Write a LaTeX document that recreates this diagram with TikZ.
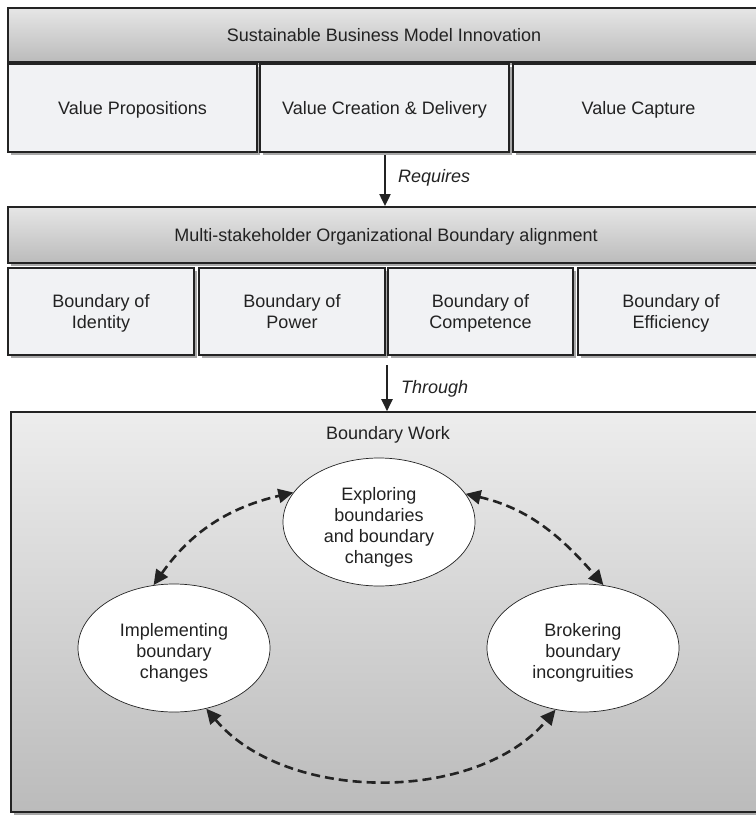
\documentclass[tikz,border=0pt]{standalone}
\usepackage{fontspec}
\setmainfont{Liberation Sans}
\usetikzlibrary{shapes.geometric,arrows.meta,shadows}
\definecolor{edgecol}{HTML}{232323}
\definecolor{txtcol}{HTML}{222222}
\definecolor{hdrtop}{HTML}{E6E6E6}
\definecolor{hdrbot}{HTML}{BBBBBB}
\definecolor{cellfill}{HTML}{F1F2F4}
\definecolor{shadowcol}{HTML}{A8A8A8}
\definecolor{worktop}{HTML}{EDEDED}
\definecolor{workbot}{HTML}{BBBBBB}
\newcommand\cst{\rule[-6.1pt]{0pt}{25.1pt}}
\newcommand\tst{\rule{0pt}{19pt}}
\newcommand\bst{\rule[-6.1pt]{0pt}{6.1pt}}
\newcommand\ost{\rule{0pt}{26pt}}
\begin{document}
\begin{tikzpicture}[x=1pt,y=1pt,
  every node/.style={font=\fontsize{18}{21}\selectfont, text=txtcol, inner sep=0pt},
  boxshadow/.style={general shadow={fill=shadowcol, shadow xshift=2.5pt, shadow yshift=-3pt}},
  hdrbox/.style={draw=edgecol, line width=1.8pt, top color=hdrtop, bottom color=hdrbot, boxshadow},
  cellbox/.style={draw=edgecol, line width=1.8pt, fill=cellfill, align=center, boxshadow},
  workbox/.style={draw=edgecol, line width=1.6pt, top color=worktop, bottom color=workbot, boxshadow},
  oval/.style={ellipse, draw=edgecol, line width=0.7pt, fill=white, minimum width=192pt, minimum height=128pt,
     align=center, inner xsep=0pt, inner ysep=-20pt},
  mainarrow/.style={draw=edgecol, line width=2pt, -{Triangle[length=12pt,width=11pt]}},
  cyclearrow/.style={draw=edgecol, line width=2.6pt, dash pattern=on 9pt off 5pt,
     {Triangle[length=15pt,width=14pt]}-{Triangle[length=15pt,width=14pt]}},
  arrowlabel/.style={font=\fontsize{18}{21}\selectfont\itshape, anchor=west}
]
\clip (0,0) rectangle (756,-815);
\fill[white] (0,0) rectangle (756,-815);

% first block
\node[hdrbox, minimum width=752pt, minimum height=54pt] (hdrA) at (384,-35) {\cst Sustainable Business Model Innovation};
\node[cellbox, minimum width=249pt, minimum height=88pt] (vp) at (132.5,-108) {\cst Value Propositions};
\node[cellbox, minimum width=249pt, minimum height=88pt] (vcd) at (384.5,-108) {\cst Value Creation \& Delivery};
\node[cellbox, minimum width=251pt, minimum height=88pt] (vc) at (638.5,-108) {\cst Value Capture};

% second block
\node[hdrbox, minimum width=756pt, minimum height=56pt] (hdrB) at (386,-235) {\cst Multi-stakeholder Organizational Boundary alignment};
\node[cellbox, minimum width=186pt, minimum height=87pt] (bi) at (101,-311.5) {\tst Boundary of\\Identity\bst};
\node[cellbox, minimum width=186pt, minimum height=87pt] (bp) at (292,-311.5) {\tst Boundary of\\Power\bst};
\node[cellbox, minimum width=185pt, minimum height=87pt] (bc) at (480.5,-311.5) {\tst Boundary of\\Competence\bst};
\node[cellbox, minimum width=186pt, minimum height=87pt] (be) at (671,-311.5) {\tst Boundary of\\Efficiency\bst};

% boundary work
\node[workbox, minimum width=753pt, minimum height=400pt] (work) at (387.5,-612) {};
\node (worktitle) at (388,-435) {Boundary Work};
\node[oval] (expl) at (379,-522) {\ost Exploring\\boundaries\\and boundary\\changes\bst};
\node[oval] (impl) at (174,-648) {\ost Implementing\\boundary\\changes\bst};
\node[oval] (brok) at (583,-648) {\ost Brokering\\boundary\\incongruities\bst};

% main arrows
\coordinate (a1s) at (385,-155);
\draw[mainarrow] (a1s) -- (a1s |- hdrB.north);
\node[arrowlabel] (lreq) at (398,-178) {Requires};
\coordinate (a2s) at (387,-365);
\draw[mainarrow] (a2s) -- (a2s |- work.north);
\node[arrowlabel] (lthr) at (401,-389) {Through};

% cycle arrows
\draw[cyclearrow] (impl.108) to[out=55, in=193] (expl.161);
\draw[cyclearrow] (expl.18) to[out=-13, in=131] (brok.72);
\draw[cyclearrow] (impl.-62) to[out=-50, in=-130, looseness=0.9] (brok.-114);
\end{tikzpicture}
\end{document}
